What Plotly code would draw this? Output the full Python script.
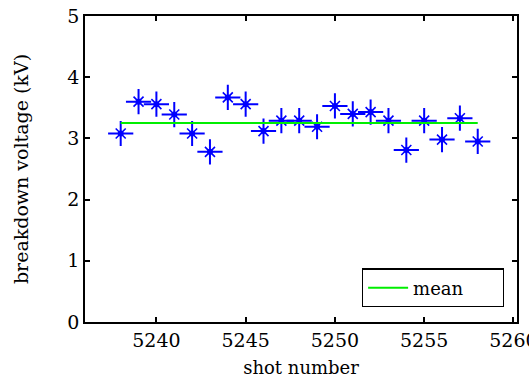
import numpy as np
import plotly.graph_objects as go

shots = list(range(5238, 5259))
voltage = [3.08, 3.60, 3.56, 3.39, 3.08, 2.78, 3.67, 3.56, 3.12, 3.29, 3.29,
           3.19, 3.53, 3.40, 3.43, 3.29, 2.81, 3.29, 2.98, 3.33, 2.95]
mean_v = 3.25
x_ticks = [5240, 5245, 5250, 5255, 5260]
y_ticks = [0, 1, 2, 3, 4, 5]

FONT = "DejaVu Serif"
BLUE = "#0000ff"
NB = "\u00a0"

fig = go.Figure()
# MATLAB-style '*' marker: plus + shorter x + centre dot
fig.add_trace(go.Scatter(
    x=shots, y=voltage, mode="markers", showlegend=False,
    marker=dict(symbol="cross-thin-open", size=18, color=BLUE,
                line=dict(color=BLUE, width=2)),
))
fig.add_trace(go.Scatter(
    x=shots, y=voltage, mode="markers", showlegend=False,
    marker=dict(symbol="x-thin-open", size=10, color=BLUE,
                line=dict(color=BLUE, width=1.6)),
))
fig.add_trace(go.Scatter(
    x=shots, y=voltage, mode="markers", showlegend=False,
    marker=dict(symbol="circle", size=6, color=BLUE, line=dict(width=0)),
))
fig.add_trace(go.Scatter(
    x=[shots[0], shots[-1]], y=[mean_v, mean_v], mode="lines",
    name="mean" + NB * 6,
    line=dict(color="#00ee00", width=2),
))

axis_common = dict(
    showgrid=False, zeroline=False, showline=True, linecolor="black", linewidth=1.5,
    mirror="ticks", ticks="inside", ticklen=5, tickwidth=1.5, tickcolor="black",
    tickfont=dict(family=FONT, size=19, color="black"), automargin=False,
    ticklabeloverflow="allow",
)
fig.update_xaxes(range=[5236, 5260.2], tickvals=x_ticks,
                 ticktext=[str(v) for v in x_ticks],
                 title=dict(text="shot number", font=dict(family=FONT, size=18, color="black"),
                            standoff=12),
                 **axis_common)
fig.update_yaxes(range=[0, 5], tickvals=y_ticks,
                 title=dict(text="breakdown voltage (kV)", font=dict(family=FONT, size=19, color="black"),
                            standoff=34),
                 **axis_common)

fig.update_layout(
    width=529, height=380,
    margin=dict(l=85, r=12, t=16, b=58),
    paper_bgcolor="white", plot_bgcolor="white",
    font=dict(family=FONT, size=17, color="black"),
    legend=dict(x=0.641, y=0.048, xanchor="left", yanchor="bottom",
                bordercolor="black", borderwidth=1.2, bgcolor="white",
                font=dict(family=FONT, size=18, color="black"),
                itemwidth=40),
)

fig.write_html("out.html", config={"displayModeBar": False},
               post_script="document.body.style.margin='0';document.body.style.overflow='hidden';")
